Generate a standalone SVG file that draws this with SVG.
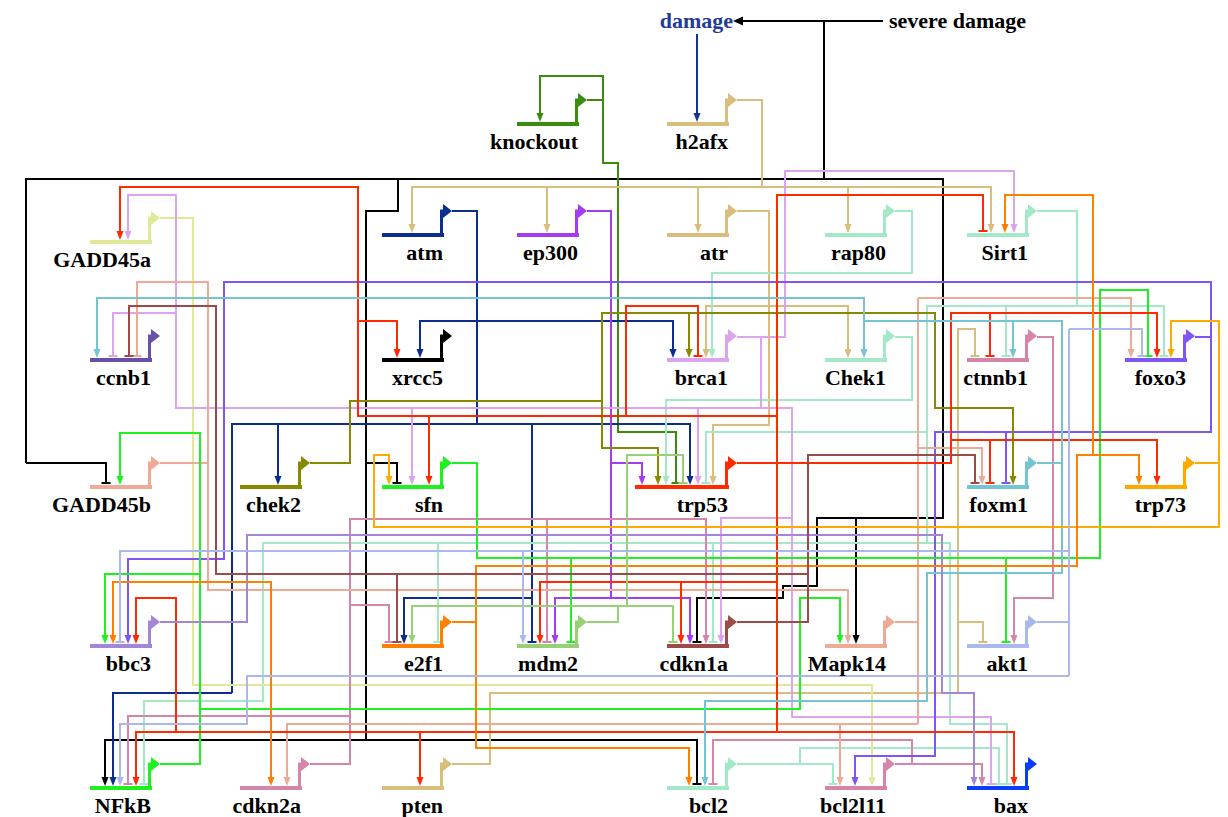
<svg xmlns="http://www.w3.org/2000/svg" xmlns:xlink="http://www.w3.org/1999/xlink" width="1228" height="817" viewBox="0 0 1228 817">
<style>
.w{fill:none;stroke-width:2}
.bar{fill:none;stroke-width:4}
.pro{fill:none;stroke-width:3}
.tri{stroke:none}
text{font-family:"Liberation Serif","Times New Roman",serif;font-weight:bold;font-size:22px;text-anchor:end;fill:#000;stroke:none}
text.dmg{fill:#1f3c99}
.k0{stroke:#000;fill:#000}
.kdm{stroke:#13348f;fill:#13348f}
.kko{stroke:#3a8c0c;fill:#3a8c0c}
.ktan{stroke:#d9bd7c;fill:#d9bd7c}
.katm{stroke:#0b2d8f;fill:#0b2d8f}
.kep{stroke:#a63cf0;fill:#a63cf0}
.kmint{stroke:#a3e9c8;fill:#a3e9c8}
.kyel{stroke:#e2e89a;fill:#e2e89a}
.kvio{stroke:#dca4ec;fill:#dca4ec}
.kpink{stroke:#d585aa;fill:#d585aa}
.kfx3{stroke:#7f55f5;fill:#7f55f5}
.ksal{stroke:#efaa96;fill:#efaa96}
.kolv{stroke:#878a00;fill:#878a00}
.kgrn{stroke:#1ff01f;fill:#1ff01f}
.kred{stroke:#ff2a00;fill:#ff2a00}
.klb{stroke:#74c4d4;fill:#74c4d4}
.ko73{stroke:#ffaa00;fill:#ffaa00}
.klav{stroke:#a486d8;fill:#a486d8}
.kor{stroke:#ff8000;fill:#ff8000}
.klg{stroke:#98d078;fill:#98d078}
.kbr{stroke:#9e4a48;fill:#9e4a48}
.kperi{stroke:#aab8ee;fill:#aab8ee}
.kbax{stroke:#0a3cff;fill:#0a3cff}
.kcc{stroke:#6650a8;fill:#6650a8}
</style>
<defs>
<path id="a" d="M-3.5,-9L3.5,-9L0,0Z" stroke="none"/>
<path id="t" d="M-4.5,0H4.5" fill="none" stroke-width="2"/>
</defs>
<rect width="1228" height="817" fill="#fff"/>
<g id="connectors">
<g class="k0">
<path class="w" d="M883,21H741M824,21V179M26,463V179H943V518H817V586H783V598H697V642M26,463H106V483M398,179V211H366V740M105,778V740H697V784M366,463H397V483M856,518V636"/>
<polygon points="733,21 743,16.5 743,25.5" stroke="none"/>
<use href="#a" x="105" y="786"/><use href="#a" x="856" y="644"/>
<use href="#t" x="697" y="642"/><use href="#t" x="106" y="483"/><use href="#t" x="697" y="784"/><use href="#t" x="397" y="483"/>
</g>
<g class="kdm"><path class="w" d="M697,34V114"/><use href="#a" x="697" y="122"/></g>
<g class="kko"><path class="w" d="M587,100H603V163H618V432H676V483M603,100V76H540V114"/><use href="#t" x="676" y="483"/><use href="#a" x="540" y="122"/></g>
<g class="ktan">
<path class="w" d="M737,100H762V187M412,225V187H991V225M547,187V225M698,187V225M848,187V225"/>
<use href="#a" x="412" y="233"/><use href="#a" x="547" y="233"/><use href="#a" x="698" y="233"/><use href="#a" x="848" y="233"/><use href="#a" x="991" y="233"/>
<path class="w" d="M737,211H769V425H713V477M706,350V306H848V350"/>
<use href="#a" x="713" y="485"/><use href="#a" x="706" y="358"/><use href="#a" x="848" y="358"/>
<path class="w" d="M452,764H490V693H958V329H975V356M958,622H983V642"/>
<use href="#t" x="975" y="356"/><use href="#t" x="983" y="642"/>
</g>
<g class="katm">
<path class="w" d="M452,211H477V424M420,350V321H673V350M232,693V424H690V477M278,424V477M532,424V642M532,598H404V636M232,693H113V778"/>
<use href="#a" x="420" y="358"/><use href="#a" x="673" y="358"/><use href="#a" x="690" y="485"/><use href="#a" x="278" y="485"/><use href="#a" x="404" y="644"/><use href="#a" x="113" y="786"/><use href="#t" x="532" y="642"/>
</g>
<g class="kep">
<path class="w" d="M587,211H611V598M611,463H642V477M555,636V598H690V636"/>
<use href="#a" x="642" y="485"/><use href="#a" x="555" y="644"/><use href="#a" x="690" y="644"/>
</g>
<g class="kmint">
<path class="w" d="M895,211H912V273H712V350"/><use href="#a" x="712" y="358"/>
<path class="w" d="M1037,211H1077V306M927,543V306H1164V356M1006,306V356M706,483V432H927M144,784V701H263V543H950V724H1007V784M438,543V642M713,543V642"/>
<use href="#t" x="1164" y="356"/><use href="#t" x="1006" y="356"/><use href="#t" x="706" y="483"/><use href="#t" x="144" y="784"/><use href="#t" x="1007" y="784"/><use href="#t" x="438" y="642"/><use href="#t" x="713" y="642"/>
<path class="w" d="M895,337H912V400H666V477"/><use href="#a" x="666" y="485"/>
<path class="w" d="M737,764H833V784M800,764V748H999V784"/><use href="#t" x="833" y="784"/><use href="#t" x="999" y="784"/>
</g>
<g class="kyel"><path class="w" d="M160,218H193V685H872V778"/><use href="#a" x="872" y="786"/></g>
<g class="kvio">
<path class="w" d="M737,337H785V171H1014V225M761,337V408M128,232V195H176V408H792V717H991V784M113,356V313H176M412,477V408M698,477V408M792,518H721V636"/>
<use href="#a" x="1014" y="233"/><use href="#a" x="128" y="240"/><use href="#a" x="412" y="485"/><use href="#a" x="698" y="485"/><use href="#a" x="721" y="644"/>
<use href="#t" x="113" y="356"/><use href="#t" x="991" y="784"/>
</g>
<g class="kpink">
<path class="w" d="M1037,337H1053V598H1014V636"/><use href="#a" x="1014" y="644"/>
<path class="w" d="M310,764H350V519H706V636M350,716H128V784M350,605H389V642M547,519V642"/>
<use href="#a" x="706" y="644"/><use href="#t" x="128" y="784"/><use href="#t" x="389" y="642"/><use href="#t" x="547" y="642"/>
<path class="w" d="M895,764H982V778M912,764V740H713V784"/><use href="#a" x="982" y="786"/><use href="#t" x="713" y="784"/>
</g>
<g class="kfx3">
<path class="w" d="M1195,337H1211V282H224V559H128V636M1211,337V432H935V756H855V778M1006,432V483"/>
<use href="#a" x="128" y="644"/><use href="#a" x="855" y="786"/><use href="#t" x="1006" y="483"/>
</g>
<g class="ksal">
<path class="w" d="M160,463H208M137,356V282H208V590H848V636"/><use href="#t" x="137" y="356"/><use href="#a" x="848" y="644"/>
<path class="w" d="M895,622H918M918,298V724M918,298H1131V350M918,448H982V477M918,724H287V778M840,724V778"/>
<use href="#a" x="1131" y="358"/><use href="#a" x="982" y="485"/><use href="#a" x="287" y="786"/><use href="#a" x="840" y="786"/>
</g>
<g class="kolv">
<path class="w" d="M310,463H350V401H602V448H658V477M602,401V313H935V408H1013V477M689,313V350"/>
<use href="#a" x="658" y="485"/><use href="#a" x="1013" y="485"/><use href="#a" x="689" y="358"/>
</g>
<g class="kgrn">
<path class="w" d="M452,463H477V558H1100V290H1148V356M571,558V642M1006,558V642"/>
<use href="#t" x="1148" y="356"/><use href="#t" x="571" y="642"/><use href="#t" x="1006" y="642"/>
<path class="w" d="M160,764H200V433H120V477M200,574H105V636M200,709H800V598H840V636"/>
<use href="#a" x="120" y="485"/><use href="#a" x="105" y="644"/><use href="#a" x="840" y="644"/>
</g>
<g class="kred">
<path class="w" d="M737,463H951V313H1157V350M990,313V356M951,463V440H1157V477M990,440V483M777,463V195H983V231M777,463V732M120,232V187H358V416H777M358,321H397V350M429,416V477M626,416V306H698V356M540,636V582H777M681,582V636M136,778V732H1014V778M176,732V598H136V636M420,732V778"/>
<use href="#a" x="1157" y="358"/><use href="#a" x="1157" y="485"/><use href="#a" x="120" y="240"/><use href="#a" x="397" y="358"/><use href="#a" x="429" y="485"/><use href="#a" x="540" y="644"/><use href="#a" x="681" y="644"/><use href="#a" x="136" y="786"/><use href="#a" x="1014" y="786"/><use href="#a" x="136" y="644"/><use href="#a" x="420" y="786"/>
<use href="#t" x="990" y="356"/><use href="#t" x="990" y="483"/><use href="#t" x="983" y="231"/><use href="#t" x="698" y="356"/>
</g>
<g class="klb">
<path class="w" d="M1037,463H1062V321H864M97,350V298H864V350M1013,321V350M1062,463V573H927V701H705V778"/>
<use href="#a" x="97" y="358"/><use href="#a" x="864" y="358"/><use href="#a" x="1013" y="358"/><use href="#a" x="705" y="786"/>
</g>
<g class="ko73">
<path class="w" d="M1195,463H1219V321H1171V350M1219,463V527H374V455H389V477"/>
<use href="#a" x="1171" y="358"/><use href="#a" x="389" y="485"/>
</g>
<g class="klav"><path class="w" d="M160,622H247V535H942V693H974V778"/><use href="#a" x="974" y="786"/></g>
<g class="kor">
<path class="w" d="M452,622H476V566H1077V455H1139V477M1093,455V195H1005V225M476,622V748H689V778M271,778V582H113V636"/>
<use href="#a" x="1139" y="485"/><use href="#a" x="1005" y="233"/><use href="#a" x="689" y="786"/><use href="#a" x="271" y="786"/><use href="#a" x="113" y="644"/>
</g>
<g class="klg">
<path class="w" d="M587,622H618V606M412,636V606H673V642M627,606V455H683V483"/>
<use href="#a" x="412" y="644"/><use href="#t" x="673" y="642"/><use href="#t" x="683" y="483"/>
</g>
<g class="kbr">
<path class="w" d="M737,622H808V455H975V483M808,574H216V306H129V356M397,574V642"/>
<use href="#t" x="975" y="483"/><use href="#t" x="129" y="356"/><use href="#t" x="397" y="642"/>
</g>
<g class="kperi">
<path class="w" d="M1037,622H1069M1069,329V676M1069,329H1142V356M1069,551H120V642M523,551V636M1069,676H247V724H120V778"/>
<use href="#a" x="523" y="644"/><use href="#a" x="120" y="786"/><use href="#t" x="1142" y="356"/><use href="#t" x="120" y="642"/>
</g>
</g>
<g id="n-severe" ><text x="1026" y="28">severe damage</text></g>
<g id="n-damage"><text class="dmg" x="733" y="28">damage</text></g>
<g id="n-knockout" class="kko"><path class="bar" d="M517,124H579"/><path class="pro" d="M576.5,124V100H579"/><path class="tri" d="M578,93L587,100L578,107Z"/><text x="578" y="149">knockout</text></g>
<g id="n-h2afx" class="ktan"><path class="bar" d="M667,124H729"/><path class="pro" d="M726.5,124V100H729"/><path class="tri" d="M728,93L737,100L728,107Z"/><text x="728" y="149">h2afx</text></g>
<g id="n-GADD45a" class="kyel"><path class="bar" d="M90,242H152"/><path class="pro" d="M149.5,242V218H152"/><path class="tri" d="M151,211L160,218L151,225Z"/><text x="151" y="267">GADD45a</text></g>
<g id="n-atm" class="katm"><path class="bar" d="M382,235H444"/><path class="pro" d="M441.5,235V211H444"/><path class="tri" d="M443,204L452,211L443,218Z"/><text x="443" y="260">atm</text></g>
<g id="n-ep300" class="kep"><path class="bar" d="M517,235H579"/><path class="pro" d="M576.5,235V211H579"/><path class="tri" d="M578,204L587,211L578,218Z"/><text x="578" y="260">ep300</text></g>
<g id="n-atr" class="ktan"><path class="bar" d="M667,235H729"/><path class="pro" d="M726.5,235V211H729"/><path class="tri" d="M728,204L737,211L728,218Z"/><text x="728" y="260">atr</text></g>
<g id="n-rap80" class="kmint"><path class="bar" d="M825,235H887"/><path class="pro" d="M884.5,235V211H887"/><path class="tri" d="M886,204L895,211L886,218Z"/><text x="886" y="260">rap80</text></g>
<g id="n-Sirt1" class="kmint"><path class="bar" d="M967,235H1029"/><path class="pro" d="M1026.5,235V211H1029"/><path class="tri" d="M1028,204L1037,211L1028,218Z"/><text x="1028" y="260">Sirt1</text></g>
<g id="n-ccnb1" class="kcc"><path class="bar" d="M90,360H152"/><path class="pro" d="M149.5,360V336H152"/><path class="tri" d="M151,329L160,336L151,343Z"/><text x="151" y="385">ccnb1</text></g>
<g id="n-xrcc5" class="k0"><path class="bar" d="M382,360H444"/><path class="pro" d="M441.5,360V336H444"/><path class="tri" d="M443,329L452,336L443,343Z"/><text x="443" y="385">xrcc5</text></g>
<g id="n-brca1" class="kvio"><path class="bar" d="M667,360H729"/><path class="pro" d="M726.5,360V336H729"/><path class="tri" d="M728,329L737,336L728,343Z"/><text x="728" y="385">brca1</text></g>
<g id="n-Chek1" class="kmint"><path class="bar" d="M825,360H887"/><path class="pro" d="M884.5,360V336H887"/><path class="tri" d="M886,329L895,336L886,343Z"/><text x="886" y="385">Chek1</text></g>
<g id="n-ctnnb1" class="kpink"><path class="bar" d="M967,360H1029"/><path class="pro" d="M1026.5,360V336H1029"/><path class="tri" d="M1028,329L1037,336L1028,343Z"/><text x="1028" y="385">ctnnb1</text></g>
<g id="n-foxo3" class="kfx3"><path class="bar" d="M1125,360H1187"/><path class="pro" d="M1184.5,360V336H1187"/><path class="tri" d="M1186,329L1195,336L1186,343Z"/><text x="1186" y="385">foxo3</text></g>
<g id="n-GADD45b" class="ksal"><path class="bar" d="M90,487H152"/><path class="pro" d="M149.5,487V463H152"/><path class="tri" d="M151,456L160,463L151,470Z"/><text x="151" y="512">GADD45b</text></g>
<g id="n-chek2" class="kolv"><path class="bar" d="M240,487H302"/><path class="pro" d="M299.5,487V463H302"/><path class="tri" d="M301,456L310,463L301,470Z"/><text x="301" y="512">chek2</text></g>
<g id="n-sfn" class="kgrn"><path class="bar" d="M382,487H444"/><path class="pro" d="M441.5,487V463H444"/><path class="tri" d="M443,456L452,463L443,470Z"/><text x="443" y="512">sfn</text></g>
<g id="n-trp53" class="kred"><path class="bar" d="M635,487H729"/><path class="pro" d="M726.5,487V463H729"/><path class="tri" d="M728,456L737,463L728,470Z"/><text x="728" y="512">trp53</text></g>
<g id="n-foxm1" class="klb"><path class="bar" d="M967,487H1029"/><path class="pro" d="M1026.5,487V463H1029"/><path class="tri" d="M1028,456L1037,463L1028,470Z"/><text x="1028" y="512">foxm1</text></g>
<g id="n-trp73" class="ko73"><path class="bar" d="M1125,487H1187"/><path class="pro" d="M1184.5,487V463H1187"/><path class="tri" d="M1186,456L1195,463L1186,470Z"/><text x="1186" y="512">trp73</text></g>
<g id="n-bbc3" class="klav"><path class="bar" d="M90,646H152"/><path class="pro" d="M149.5,646V622H152"/><path class="tri" d="M151,615L160,622L151,629Z"/><text x="151" y="671">bbc3</text></g>
<g id="n-e2f1" class="kor"><path class="bar" d="M382,646H444"/><path class="pro" d="M441.5,646V622H444"/><path class="tri" d="M443,615L452,622L443,629Z"/><text x="443" y="671">e2f1</text></g>
<g id="n-mdm2" class="klg"><path class="bar" d="M517,646H579"/><path class="pro" d="M576.5,646V622H579"/><path class="tri" d="M578,615L587,622L578,629Z"/><text x="578" y="671">mdm2</text></g>
<g id="n-cdkn1a" class="kbr"><path class="bar" d="M667,646H729"/><path class="pro" d="M726.5,646V622H729"/><path class="tri" d="M728,615L737,622L728,629Z"/><text x="728" y="671">cdkn1a</text></g>
<g id="n-Mapk14" class="ksal"><path class="bar" d="M825,646H887"/><path class="pro" d="M884.5,646V622H887"/><path class="tri" d="M886,615L895,622L886,629Z"/><text x="886" y="671">Mapk14</text></g>
<g id="n-akt1" class="kperi"><path class="bar" d="M967,646H1029"/><path class="pro" d="M1026.5,646V622H1029"/><path class="tri" d="M1028,615L1037,622L1028,629Z"/><text x="1028" y="671">akt1</text></g>
<g id="n-NFkB" class="kgrn"><path class="bar" d="M90,788H152"/><path class="pro" d="M149.5,788V764H152"/><path class="tri" d="M151,757L160,764L151,771Z"/><text x="151" y="813">NFkB</text></g>
<g id="n-cdkn2a" class="kpink"><path class="bar" d="M240,788H302"/><path class="pro" d="M299.5,788V764H302"/><path class="tri" d="M301,757L310,764L301,771Z"/><text x="301" y="813">cdkn2a</text></g>
<g id="n-pten" class="ktan"><path class="bar" d="M382,788H444"/><path class="pro" d="M441.5,788V764H444"/><path class="tri" d="M443,757L452,764L443,771Z"/><text x="443" y="813">pten</text></g>
<g id="n-bcl2" class="kmint"><path class="bar" d="M667,788H729"/><path class="pro" d="M726.5,788V764H729"/><path class="tri" d="M728,757L737,764L728,771Z"/><text x="728" y="813">bcl2</text></g>
<g id="n-bcl2l11" class="kpink"><path class="bar" d="M825,788H887"/><path class="pro" d="M884.5,788V764H887"/><path class="tri" d="M886,757L895,764L886,771Z"/><text x="886" y="813">bcl2l11</text></g>
<g id="n-bax" class="kbax"><path class="bar" d="M967,788H1029"/><path class="pro" d="M1026.5,788V764H1029"/><path class="tri" d="M1028,757L1037,764L1028,771Z"/><text x="1028" y="813">bax</text></g>
</svg>
